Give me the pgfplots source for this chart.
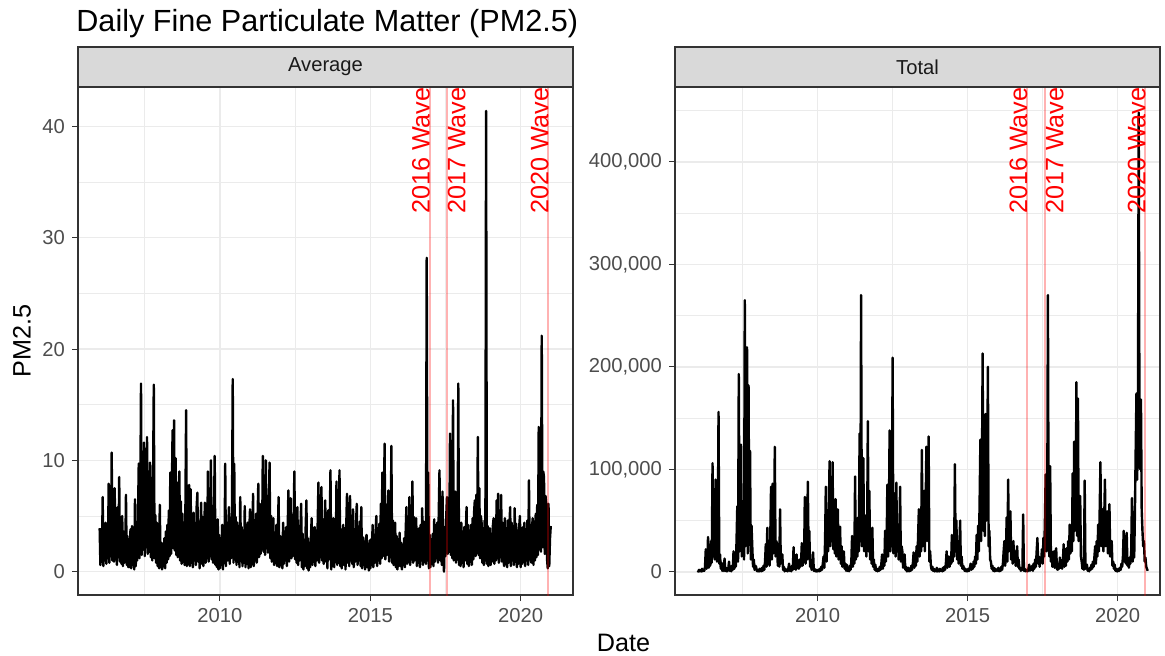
\documentclass[border=0pt]{standalone}
\usepackage{fontspec}
\setmainfont{Liberation Sans}
\usepackage{pgfplots}
\usepackage{pgfplotstable}
\pgfplotsset{compat=1.18}
\definecolor{gray20}{HTML}{333333}
\definecolor{gray30}{HTML}{4D4D4D}
\definecolor{gray92}{HTML}{EBEBEB}
\definecolor{gray10}{HTML}{1A1A1A}
\definecolor{stripfill}{HTML}{D9D9D9}

% Daily average PM2.5, sampled every 0.025 year from 2006.0 to 2021.0
\pgfplotstableread[row sep=\\, header=false]{
3.9\\0.6\\2.8\\0.9\\6.7\\0.5\\3.1\\1.0\\4.4\\0.7\\3.5\\1.2\\7.9\\0.8\\4.6\\1.4\\10.7\\1.0\\5.2\\0.9\\7.5\\1.1\\4.0\\0.6\\5.8\\1.3\\8.5\\0.9\\4.2\\0.7\\5.0\\0.5\\3.6\\0.8\\1.0\\6.9\\0.6\\3.2\\0.4\\2.9\\
0.4\\3.8\\0.3\\4.1\\0.6\\3.0\\0.2\\6.5\\0.5\\3.4\\1.0\\4.8\\9.7\\1.2\\5.5\\16.9\\1.5\\8.2\\2.0\\11.6\\1.4\\7.3\\2.2\\12.1\\1.6\\9.0\\1.8\\9.8\\1.3\\8.4\\1.0\\7.6\\16.8\\1.2\\5.1\\0.8\\4.4\\0.5\\3.2\\0.3\\
6.0\\0.4\\2.6\\0.2\\2.4\\0.5\\3.0\\0.3\\3.6\\0.8\\4.2\\1.1\\5.5\\1.4\\8.9\\1.6\\7.0\\12.7\\2.1\\13.6\\1.9\\10.2\\1.5\\8.0\\1.3\\7.1\\9.0\\1.0\\6.3\\0.7\\5.2\\0.9\\4.4\\0.6\\5.0\\14.5\\0.5\\4.8\\0.7\\7.8\\
0.5\\7.4\\0.8\\4.6\\0.4\\5.3\\1.0\\4.0\\0.6\\5.8\\7.1\\0.9\\4.5\\0.3\\3.8\\6.2\\0.7\\4.9\\0.5\\3.5\\6.2\\0.8\\4.3\\1.2\\9.0\\0.9\\5.6\\1.4\\10.0\\1.1\\5.9\\0.8\\4.7\\10.4\\0.6\\3.9\\0.4\\4.7\\0.2\\3.3\\
0.3\\3.0\\0.6\\4.2\\0.2\\3.7\\0.9\\9.7\\0.5\\4.4\\1.0\\3.9\\5.8\\0.7\\4.6\\1.2\\5.1\\17.3\\0.8\\9.7\\1.1\\4.9\\0.6\\4.4\\0.9\\3.8\\0.4\\6.7\\1.0\\4.0\\0.5\\3.3\\0.8\\5.9\\0.4\\4.2\\0.7\\4.4\\0.3\\3.6\\
5.6\\0.4\\3.4\\0.7\\7.0\\0.5\\4.1\\1.0\\5.2\\0.8\\4.6\\7.9\\1.3\\6.1\\1.6\\5.8\\2.0\\10.4\\1.8\\7.4\\1.5\\10.0\\2.1\\6.8\\1.7\\5.9\\9.8\\1.2\\5.0\\0.9\\3.8\\4.8\\0.6\\3.5\\0.8\\4.2\\0.5\\3.1\\6.7\\0.4\\
3.2\\0.6\\2.9\\0.3\\4.4\\0.7\\3.6\\1.0\\4.0\\0.5\\3.3\\7.3\\0.9\\4.5\\6.6\\1.2\\5.0\\1.4\\4.8\\9.0\\1.1\\4.3\\0.8\\5.8\\0.6\\4.1\\1.0\\3.7\\6.1\\0.4\\3.4\\0.2\\2.8\\0.5\\3.9\\6.4\\0.3\\3.0\\0.1\\2.6\\
0.4\\3.1\\4.8\\0.6\\3.5\\0.9\\4.0\\0.5\\3.7\\1.0\\4.3\\8.0\\0.8\\5.2\\1.3\\7.6\\1.0\\4.7\\0.7\\3.9\\6.4\\0.9\\4.4\\0.3\\5.5\\1.1\\4.1\\9.1\\0.2\\4.6\\0.5\\4.8\\0.4\\3.6\\0.9\\8.1\\0.6\\4.5\\0.8\\9.1\\
0.5\\3.8\\0.3\\3.4\\4.2\\0.6\\3.9\\0.2\\4.1\\7.0\\0.8\\4.4\\0.5\\6.8\\1.0\\4.0\\0.7\\5.6\\0.4\\3.8\\0.9\\4.2\\6.1\\0.6\\3.7\\1.0\\4.5\\0.5\\5.8\\0.3\\3.1\\0.6\\2.7\\0.2\\2.9\\3.3\\0.4\\2.5\\0.1\\2.8\\
0.3\\2.9\\0.6\\4.2\\0.4\\3.3\\0.8\\3.6\\5.0\\0.5\\3.9\\1.0\\4.3\\0.7\\6.1\\1.2\\8.9\\1.4\\5.4\\11.5\\1.1\\6.0\\1.5\\5.2\\7.3\\0.9\\4.8\\1.3\\11.3\\0.8\\4.6\\0.6\\3.5\\4.4\\0.4\\3.2\\0.2\\2.9\\0.5\\3.5\\
0.5\\2.6\\0.2\\2.4\\0.6\\3.0\\0.4\\3.5\\5.8\\0.7\\3.8\\0.9\\6.7\\0.6\\4.4\\1.1\\8.1\\0.8\\4.9\\1.0\\4.0\\4.8\\0.5\\3.6\\0.8\\3.9\\0.4\\4.2\\1.0\\5.7\\0.6\\4.5\\0.9\\4.0\\0.7\\28.2\\1.0\\8.9\\0.3\\3.3\\
0.4\\2.9\\0.7\\3.4\\0.5\\4.7\\0.9\\3.8\\1.2\\4.4\\0.8\\5.1\\9.1\\1.0\\4.6\\0.6\\7.2\\1.3\\0.0\\4.0\\1.4\\5.0\\6.7\\1.6\\5.9\\1.8\\12.4\\1.5\\7.0\\1.2\\15.4\\1.0\\6.1\\7.2\\0.8\\5.3\\1.1\\16.9\\0.6\\4.4\\
0.5\\4.4\\0.8\\3.6\\0.4\\4.0\\1.0\\3.3\\5.8\\0.7\\4.2\\0.5\\3.7\\0.9\\4.2\\0.6\\4.8\\1.1\\5.3\\6.4\\1.4\\6.9\\1.7\\12.1\\1.5\\7.5\\1.2\\5.0\\4.4\\0.8\\3.9\\0.6\\4.6\\1.0\\41.4\\0.7\\4.1\\0.5\\3.6\\3.9\\
0.6\\3.4\\0.9\\4.1\\4.8\\0.7\\4.3\\1.0\\6.4\\1.2\\7.0\\0.8\\5.1\\1.3\\6.9\\0.9\\4.4\\1.1\\0.5\\4.8\\0.7\\3.9\\0.4\\4.6\\0.8\\4.1\\5.8\\0.5\\4.4\\1.0\\3.8\\0.6\\5.7\\0.9\\4.3\\0.4\\3.7\\0.7\\4.0\\5.0\\
0.4\\3.5\\0.7\\4.0\\0.9\\4.4\\0.5\\3.8\\1.0\\4.6\\0.6\\8.2\\1.1\\4.2\\0.8\\3.9\\4.8\\0.6\\4.5\\1.0\\5.2\\1.3\\6.0\\1.5\\13.0\\2.0\\7.5\\1.8\\21.2\\2.2\\9.0\\8.5\\1.6\\6.8\\6.1\\1.2\\0.3\\6.1\\0.5\\3.0\\
4.1\\
}\avgdata

% Daily total PM2.5 (thousands), sampled every 0.025 year from 2006.0 to 2021.0
\pgfplotstableread[row sep=\\, header=false]{
1\\0.3\\2\\0.5\\1.5\\0.4\\3\\0.6\\2\\1\\5\\22\\3\\8\\34\\4\\17\\6\\30\\9\\106\\15\\45\\12\\90\\61\\10\\35\\156\\8\\17\\3\\9\\1\\5\\0.8\\13\\1\\4\\0.5\\
1\\3\\10\\1\\4\\0.5\\6\\2\\20\\3\\12\\5\\30\\64\\10\\193\\20\\55\\124\\15\\40\\69\\12\\265\\25\\80\\219\\18\\182\\30\\118\\12\\45\\24\\5\\12\\2\\6\\5\\1\\
0.5\\2\\0.3\\3\\2\\0.5\\4\\1\\6\\2\\10\\27\\5\\43\\8\\20\\6\\35\\83\\12\\86\\18\\40\\122\\15\\30\\27\\6\\20\\5\\61\\8\\12\\17\\2\\5\\0.5\\3\\1\\2\\
0.5\\3\\8\\1\\4\\0.5\\6\\2\\24\\3\\10\\2\\17\\4\\8\\3\\12\\5\\9\\28\\6\\20\\10\\73\\8\\35\\12\\88\\20\\40\\5\\10\\2\\6\\19\\1\\3\\0.5\\2\\0.3\\
1\\2\\0.5\\3\\1\\5\\2\\8\\15\\4\\30\\83\\10\\45\\20\\60\\108\\25\\70\\30\\107\\22\\55\\18\\71\\15\\40\\61\\12\\30\\44\\8\\25\\5\\12\\20\\3\\8\\1\\7\\
1\\4\\0.5\\6\\2\\10\\35\\5\\15\\8\\93\\12\\40\\15\\53\\20\\135\\30\\270\\25\\60\\111\\20\\45\\55\\15\\35\\147\\20\\79\\12\\30\\8\\43\\5\\12\\2\\7\\1\\3\\
0.5\\3\\1\\5\\2\\8\\17\\3\\12\\6\\40\\10\\25\\85\\15\\50\\138\\20\\60\\25\\209\\18\\77\\30\\15\\87\\20\\45\\12\\35\\83\\10\\25\\20\\4\\8\\17\\2\\5\\0.5\\
1\\4\\0.5\\3\\1\\6\\2\\8\\19\\4\\12\\6\\25\\10\\35\\61\\15\\40\\20\\119\\25\\50\\79\\20\\60\\122\\30\\70\\132\\10\\20\\6\\2\\5\\1\\3\\0.5\\2\\0.5\\4\\
0.5\\2\\0.3\\3\\1\\2\\0.5\\4\\1\\5\\2\\8\\20\\4\\10\\15\\5\\12\\8\\36\\10\\25\\15\\105\\20\\50\\12\\30\\8\\25\\50\\6\\15\\3\\6\\4\\1\\3\\0.5\\2\\
0.5\\3\\1\\4\\8\\2\\6\\3\\10\\5\\15\\8\\36\\12\\45\\20\\70\\129\\30\\90\\213\\40\\110\\35\\154\\50\\80\\200\\25\\40\\12\\10\\3\\6\\1\\4\\0.5\\3\\1\\2\\
1\\4\\0.5\\3\\1\\5\\2\\8\\20\\30\\6\\15\\53\\10\\90\\20\\35\\59\\12\\25\\8\\30\\10\\20\\6\\15\\25\\5\\12\\3\\4\\1\\3\\2\\56\\1\\3\\0.5\\1\\2\\
0.5\\3\\7\\1\\4\\2\\6\\1\\8\\3\\12\\5\\20\\33\\8\\15\\5\\14\\10\\22\\8\\33\\15\\50\\95\\20\\40\\270\\25\\15\\103\\10\\20\\5\\10\\20\\4\\18\\23\\3\\
2\\8\\3\\14\\4\\10\\3\\12\\27\\5\\15\\6\\23\\10\\30\\12\\46\\18\\40\\20\\96\\30\\127\\40\\60\\185\\35\\169\\30\\50\\74\\15\\10\\3\\8\\2\\89\\3\\5\\7\\
1\\3\\0.5\\4\\2\\7\\3\\10\\5\\15\\25\\8\\30\\15\\46\\20\\60\\107\\25\\45\\61\\20\\50\\90\\25\\40\\59\\18\\35\\66\\15\\20\\30\\6\\10\\3\\7\\1\\3\\0.5\\
0.5\\3\\1\\4\\2\\8\\5\\15\\40\\10\\25\\8\\38\\6\\12\\4\\14\\8\\20\\72\\10\\25\\14\\60\\120\\174\\90\\160\\448\\150\\100\\168\\60\\40\\25\\30\\10\\14\\5\\3\\
1\\
}\totdata

\pgfplotsset{
  panel/.style={
    scale only axis, anchor=south west,
    axis line style={gray20, line width=0.55pt},
    tick style={gray20, line width=0.55pt},
    tick pos=left,
    tick align=outside, major tick length=3pt, minor tick length=0pt,
    xmajorgrids, ymajorgrids, xminorgrids, yminorgrids,
    major grid style={gray92, line width=0.7pt},
    minor grid style={gray92, line width=0.35pt},
    ticklabel style={font=\fontsize{10.1}{12}\selectfont, text=gray30},
    /pgf/number format/assume math mode=true,
    xtick={2010,2015,2020}, xticklabels={2010,2015,2020},
    minor xtick={2007.5,2012.5,2017.5},
    scaled ticks=false,
    clip=true,
  },
  series/.style={black, line width=1.2pt, line join=round, no markers},
  wave/.style={red, opacity=0.3, line width=1pt, forget plot},
}
\tikzset{
  wavelabel/.style={rotate=90, anchor=base east, inner sep=0pt, text=red,
    font=\fontsize{12.6}{14}\selectfont},
  wavelabelR/.style={rotate=90, anchor=north east, inner sep=0pt, text=red,
    font=\fontsize{12.6}{14}\selectfont},
}

\begin{document}
\begin{tikzpicture}
\useasboundingbox (0,0) rectangle (582.5pt,327.5pt);

% ---- Average panel
\begin{axis}[panel, at={(39pt,30pt)}, width=247.5pt, height=254pt,
  xmin=2005.28, xmax=2021.74, ymin=-2.1, ymax=43.55,
  ytick={0,10,20,30,40}, minor ytick={5,15,25,35}]
  \addplot[series] table[x expr=2006+\coordindex*0.025, y index=0] {\avgdata};
  \addplot[wave] coordinates {(2016.97,-10) (2016.97,60)};
  \addplot[wave] coordinates {(2017.56,-10) (2017.56,60)};
  \addplot[wave] coordinates {(2020.92,-10) (2020.92,60)};
  \node[wavelabel] at (axis cs:2016.97,43.55) {2016 Wave};
  \node[wavelabelR] at (axis cs:2017.56,43.55) {2017 Wave};
  \node[wavelabel] at (axis cs:2020.92,43.55) {2020 Wave};
\end{axis}

% ---- Total panel
\begin{axis}[panel, at={(337.5pt,30pt)}, width=242.5pt, height=254pt,
  xmin=2005.25, xmax=2021.41, ymin=-22.6, ymax=473,
  ytick={0,100,200,300,400},
  yticklabels={0,{100,000},{200,000},{300,000},{400,000}},
  minor ytick={50,150,250,350,450}]
  \addplot[series] table[x expr=2006+\coordindex*0.025, y index=0] {\totdata};
  \addplot[wave] coordinates {(2016.98,-100) (2016.98,600)};
  \addplot[wave] coordinates {(2017.59,-100) (2017.59,600)};
  \addplot[wave] coordinates {(2020.92,-100) (2020.92,600)};
  \node[wavelabel] at (axis cs:2016.98,473) {2016 Wave};
  \node[wavelabelR] at (axis cs:2017.59,473) {2017 Wave};
  \node[wavelabel] at (axis cs:2020.92,473) {2020 Wave};
\end{axis}

% ---- strips
\draw[gray20, line width=0.55pt, fill=stripfill] (39pt,284pt) rectangle (286.5pt,304pt);
\draw[gray20, line width=0.55pt, fill=stripfill] (337.5pt,284pt) rectangle (580pt,304pt);
\node[text=gray10, font=\fontsize{10.1}{12}\selectfont] at (162.75pt,294pt) {Average};
\node[text=gray10, font=\fontsize{10.1}{12}\selectfont] at (458.75pt,294pt) {Total};

% ---- titles
\node[anchor=base west, inner sep=0pt, font=\fontsize{15.3}{18}\selectfont] at (38pt,312pt) {Daily Fine Particulate Matter (PM2.5)};
\node[anchor=base, inner sep=0pt, font=\fontsize{12.6}{15}\selectfont] at (311.75pt,1.8pt) {Date};
\node[rotate=90, inner sep=0pt, font=\fontsize{12.6}{15}\selectfont] at (11pt,157pt) {PM2.5};
\end{tikzpicture}
\end{document}
